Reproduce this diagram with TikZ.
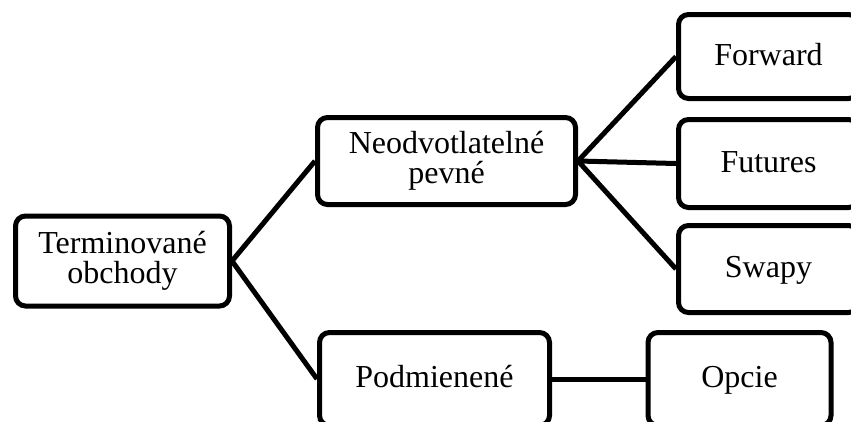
\documentclass[tikz,border=0pt]{standalone}
\usepackage{fontspec}
\setmainfont{Liberation Serif}
\begin{document}
\begin{tikzpicture}[x=1pt,y=-1pt,
  box/.style={draw=black, line width=5pt, rounded corners=10pt, inner sep=0pt,
    align=center, font=\fontsize{32}{30}\selectfont, fill=white},
  oneline/.style={text height=22pt, text depth=5pt},
  link/.style={draw=black, line width=5pt}]
\useasboundingbox (0,0) rectangle (851,421);
\node[box, minimum width=214pt, minimum height=90pt] (t) at (122.5,261) {Terminované\\obchody};
\node[box, minimum width=258pt, minimum height=87pt] (n) at (446.5,161) {Neodvotlatelné\\pevné};
\node[box, oneline, minimum width=230pt, minimum height=93pt] (p) at (434.5,379) {Podmienené};
\node[box, oneline, minimum width=183pt, minimum height=93pt] (o) at (739.5,379) {Opcie};
\node[box, oneline, minimum width=180pt, minimum height=84pt] (f) at (768.5,56.5) {Forward};
\node[box, oneline, minimum width=180pt, minimum height=88pt] (u) at (768.5,163.5) {Futures};
\node[box, oneline, minimum width=180pt, minimum height=87pt] (s) at (768.5,269) {Swapy};
\draw[link] (t.east) -- (n.west);
\draw[link] (t.east) -- (p.west);
\draw[link] (p.east) -- (o.west);
\draw[link] (n.east) -- (f.west);
\draw[link] (n.east) -- (u.west);
\draw[link] (n.east) -- (s.west);
\end{tikzpicture}
\end{document}
